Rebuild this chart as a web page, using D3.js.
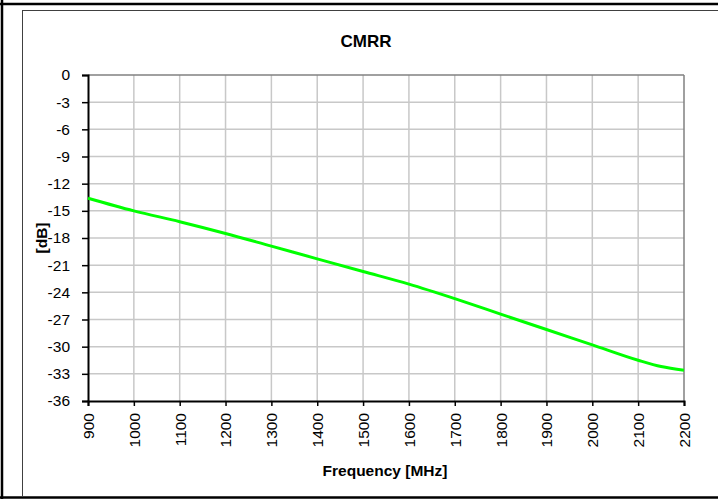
<!DOCTYPE html>
<html><head><meta charset="utf-8">
<script src="https://cdn.jsdelivr.net/npm/d3@7"></script>
<style>body{margin:0;background:#fff;} svg{display:block;font-family:"Liberation Sans",Arial,sans-serif;}</style>
</head><body>
<script>
const freqs = [900,1000,1100,1200,1300,1400,1500,1600,1700,1800,1900,2000,2100,2150,2200];
const cmrr  = [-13.6,-15.0,-16.2,-17.5,-18.9,-20.3,-21.7,-23.1,-24.7,-26.4,-28.1,-29.8,-31.5,-32.2,-32.6];
const xTicks = [900,1000,1100,1200,1300,1400,1500,1600,1700,1800,1900,2000,2100,2200];
const yTicks = [0,-3,-6,-9,-12,-15,-18,-21,-24,-27,-30,-33,-36];
const title = "CMRR", xTitle = "Frequency [MHz]", yTitle = "[dB]";

const W=718,H=499;
const svg=d3.select("body").append("svg").attr("width",W).attr("height",H);
svg.append("rect").attr("width",W).attr("height",H).attr("fill","#fff");
// outer frame
svg.append("line").attr("x1",0).attr("x2",W).attr("y1",4).attr("y2",4).attr("stroke","#000").attr("stroke-width",2.5);
svg.append("line").attr("x1",2).attr("x2",2).attr("y1",0).attr("y2",H).attr("stroke","#000").attr("stroke-width",2.5);
svg.append("line").attr("x1",0).attr("x2",W).attr("y1",497.5).attr("y2",497.5).attr("stroke","#000").attr("stroke-width",2.5);
// inner chart frame
svg.append("rect").attr("x",22.5).attr("y",10.5).attr("width",W).attr("height",486).attr("fill","none").attr("stroke","#404040").attr("stroke-width",1);

const L=88,R=684,T=75,B=401;
const x=d3.scaleLinear().domain([900,2200]).range([L,R]);
const y=d3.scaleLinear().domain([-36,0]).range([B,T]);

// gridlines
const g=svg.append("g");
g.selectAll("line.v").data(xTicks.slice(1,-1)).join("line").attr("x1",d=>x(d)).attr("x2",d=>x(d)).attr("y1",T).attr("y2",B).attr("stroke","#c8c8c8").attr("stroke-width",1.5);
g.selectAll("line.h").data(yTicks.slice(1,-1)).join("line").attr("x1",L).attr("x2",R).attr("y1",d=>y(d)).attr("y2",d=>y(d)).attr("stroke","#c8c8c8").attr("stroke-width",1.5);
// plot border top/right
svg.append("line").attr("x1",L).attr("x2",R).attr("y1",T).attr("y2",T).attr("stroke","#808080").attr("stroke-width",1.5);
svg.append("line").attr("x1",R).attr("x2",R).attr("y1",T).attr("y2",B).attr("stroke","#808080").attr("stroke-width",1.5);

// axes
const fmt = d=>String(d);
const yAxis=svg.append("g").attr("transform",`translate(${L},0)`)
  .call(d3.axisLeft(y).tickValues(yTicks).tickSize(6).tickPadding(12).tickFormat(fmt));
const xAxis=svg.append("g").attr("transform",`translate(0,${B})`)
  .call(d3.axisBottom(x).tickValues(xTicks).tickSize(5).tickFormat(fmt));
[yAxis,xAxis].forEach(a=>{
  a.select(".domain").attr("stroke","#000").attr("stroke-width",2);
  a.selectAll(".tick line").attr("stroke","#000").attr("stroke-width",1.5);
  a.selectAll("text").attr("font-family","Liberation Sans, Arial, sans-serif").attr("font-size",15.5).attr("fill","#000");
});
xAxis.selectAll("text").attr("transform","rotate(-90)").attr("text-anchor","end")
  .attr("x",-12).attr("y",0).attr("dy","0.35em");

// line
svg.append("path").datum(freqs.map((f,i)=>[f,cmrr[i]]))
  .attr("d",d3.line().x(d=>x(d[0])).y(d=>y(d[1])).curve(d3.curveMonotoneX))
  .attr("fill","none").attr("stroke","#00ff00").attr("stroke-width",3);

// titles
svg.append("text").attr("x",366).attr("y",47).attr("text-anchor","middle").attr("font-weight","bold").attr("font-size",17).text(title);
svg.append("text").attr("x",385).attr("y",476).attr("text-anchor","middle").attr("font-weight","bold").attr("font-size",15.5).text(xTitle);
svg.append("text").attr("transform","translate(47,238) rotate(-90)").attr("text-anchor","middle").attr("font-weight","bold").attr("font-size",15.5).text(yTitle);
</script>
</body></html>
